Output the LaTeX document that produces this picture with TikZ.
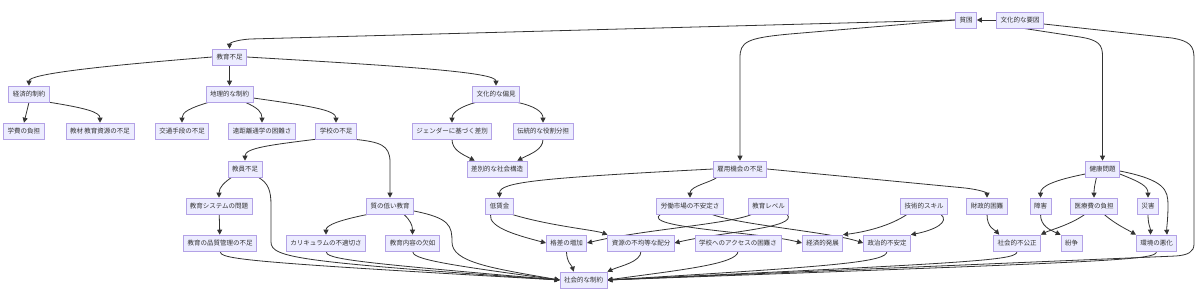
\documentclass[tikz,border=0pt]{standalone}
\usepackage{fontspec}
\usepackage{xcolor}
\usepackage{tikz}
\usetikzlibrary{arrows.meta,positioning,backgrounds}
\newfontfamily\jpfont{Noto Sans CJK JP}
\definecolor{boxfill}{HTML}{ECECFF}
\definecolor{boxline}{HTML}{B3A2E6}
\definecolor{ink}{HTML}{333333}

\begin{document}
\begin{tikzpicture}[x=1pt, y=-1pt, font=\jpfont\fontsize{6.5}{7}\selectfont,
  box/.style={draw=boxline, fill=boxfill, text=ink, line width=0.6pt, inner xsep=4pt, inner ysep=0pt, minimum height=16pt},
  link/.style={draw=ink, line width=0.8pt, -{Triangle[length=5pt,width=5pt]}}]
\useasboundingbox (0,0) rectangle (1200,297);
% top row
\node[box] (poverty) at (966,20) {貧困};
\node[box] (culture) at (1020,20) {文化的な要因};
% education side
\node[box] (edu) at (229.5,57) {教育不足};
\node[box] (econ) at (29,94) {経済的制約};
\node[box] (geo) at (229.5,94) {地理的な制約};
\node[box] (bias) at (496,94) {文化的な偏見};
\node[box] (fee) at (24,131) {学費の負担};
\node[box, minimum width=68pt] (mat) at (100,131) {教材 教育資源の不足};
\node[box] (trans) at (182,131) {交通手段の不足};
\node[box] (dist) at (262,131) {遠距離通学の困難さ};
\node[box] (school) at (336,131) {学校の不足};
\node[box] (gender) at (452,131) {ジェンダーに基づく差別};
\node[box] (role) at (543,131) {伝統的な役割分担};
\node[box] (teacher) at (245,169) {教員不足};
\node[box] (discr) at (497,169) {差別的な社会構造};
\node[box] (job) at (740,169) {雇用機会の不足};
\node[box] (health) at (1102.5,169) {健康問題};
\node[box] (system) at (219,206) {教育システムの問題};
\node[box] (lowq) at (390,206) {質の低い教育};
\node[box] (wage) at (499.5,206) {低賃金};
\node[box] (labor) at (690,206) {労働市場の不安定さ};
\node[box] (level) at (768.5,206) {教育レベル};
\node[box] (skill) at (924,206) {技術的スキル};
\node[box] (fin) at (987,206) {財政的困難};
\node[box] (disab) at (1040.5,206) {障害};
\node[box] (medical) at (1094,206) {医療費の負担};
\node[box] (disaster) at (1148,206) {災害};
\node[box] (qc) at (220,243) {教育の品質管理の不足};
\node[box] (curr) at (326,243) {カリキュラムの不適切さ};
\node[box] (content) at (412.5,243) {教育内容の欠如};
\node[box] (gap) at (566.5,243) {格差の増加};
\node[box] (alloc) at (641,243) {資源の不均等な配分};
\node[box] (access) at (738,243) {学校へのアクセスの困難さ};
\node[box] (devel) at (822.5,243) {経済的発展};
\node[box] (polit) at (887,243) {政治的不安定};
\node[box] (injust) at (1017,243) {社会的不公正};
\node[box] (conflict) at (1071.5,243) {紛争};
\node[box] (env) at (1156.5,243) {環境の悪化};
\node[box] (social) at (583.5,280) {社会的な制約};

\begin{scope}[on background layer]
% from the top row
\draw[link] (poverty.west) -- (250,39) .. controls (236,40) and (229.5,43) .. (edu.north);
\draw[link] (poverty.west) -- (790,34) .. controls (746,38) and (740,42) .. (740,58) -- (job.north);
\draw[link] (culture.west) -- (poverty.east);
\draw[link] ([xshift=3pt]culture.south) -- (1080,37) .. controls (1099,40) and (1102.5,45) .. (1102.5,56) -- (health.north);
\draw[link] ([yshift=-4pt]culture.east) -- (1172,38) .. controls (1190,41) and (1194,46) .. (1194,58) -- (1194,244) .. controls (1194,252) and (1188,255) .. (1176,256) -- (social.east);
% education tree
\draw[link] (edu.west) .. controls (100,66) and (29,74) .. (econ.north);
\draw[link] (edu) -- (geo);
\draw[link] (edu.east) .. controls (400,66) and (496,72) .. (bias.north);
\draw[link] (econ.south) -- (fee.north);
\draw[link] (econ.south east) .. controls (85,108) and (100,112) .. (mat.north);
\draw[link] ([xshift=3pt]geo.south west) .. controls (190,108) and (182,112) .. (trans.north);
\draw[link] ([xshift=-8pt]geo.south east) .. controls (258,108) and (262,112) .. (dist.north);
\draw[link] ([yshift=-4pt]geo.east) .. controls (310,106) and (336,110) .. (school.north);
\draw[link] ([xshift=4pt]bias.south west) .. controls (462,106) and (452,112) .. (gender.north);
\draw[link] ([xshift=-3pt]bias.south east) .. controls (535,106) and (543,112) .. (role.north);
\draw[link] (gender.south) .. controls (452,150) and (462,154) .. ([xshift=8pt]discr.north west);
\draw[link] (role.south) .. controls (543,150) and (530,154) .. ([xshift=-10pt]discr.north east);
\draw[link] (school.south west) .. controls (270,145) and (245,148) .. (teacher.north);
\draw[link] ([xshift=-2pt]school.south east) .. controls (380,142) and (390,145) .. (390,162) -- (lowq.north);
\draw[link] ([xshift=4pt]teacher.south west) .. controls (225,182) and (219,187) .. (system.north);
\draw[link] ([xshift=-4pt]teacher.south east) .. controls (268,183) and (271,190) .. (271,205) -- (271,242) .. controls (271,258) and (300,262) .. (social.west);
\draw[link] (system) -- (qc);
\draw[link] ([xshift=2pt]lowq.south west) .. controls (340,220) and (326,225) .. (curr.north);
\draw[link] ([xshift=-10pt]lowq.south east) .. controls (410,220) and (412.5,225) .. (content.north);
\draw[link] ([yshift=-5pt]lowq.east) .. controls (450,218) and (452,226) .. (452,242) .. controls (452,262) and (490,268) .. (social.west);
\draw[link] (qc.south) .. controls (220,259) and (240,262) .. (social.west);
\draw[link] (curr.south) .. controls (326,259) and (350,262) .. (social.west);
\draw[link] (content.south) .. controls (412.5,259) and (440,264) .. (social.west);
% employment
\draw[link] (job.west) .. controls (540,178) and (499.5,182) .. (wage.north);
\draw[link] ([xshift=4pt]job.south west) .. controls (712,182) and (690,186) .. (labor.north);
\draw[link] (job.east) -- (965,188) .. controls (982,190) and (987,193) .. (fin.north);
\draw[link] ([xshift=5pt]wage.south west) .. controls (488,228) and (520,236) .. (gap.west);
\draw[link] ([xshift=-2pt]wage.south east) .. controls (550,226) and (595,230) .. (alloc.north west);
\draw[link] ([xshift=4pt]labor.south west) .. controls (640,228) and (760,232) .. (devel.west);
\draw[link] ([xshift=-12pt]labor.south east) .. controls (740,225) and (830,232) .. (polit.west);
\draw[link] ([xshift=4pt]level.south west) .. controls (730,224) and (640,230) .. (gap.east);
\draw[link] ([xshift=-2pt]level.south east) .. controls (800,228) and (720,232) .. (alloc.east);
\draw[link] ([xshift=7pt]skill.south west) .. controls (890,226) and (865,232) .. (devel.north east);
\draw[link] ([xshift=-7pt]skill.south east) .. controls (950,222) and (935,230) .. (polit.north east);
\draw[link] (fin.south) .. controls (987,228) and (995,230) .. ([xshift=6pt]injust.north west);
% health
\draw[link] ([yshift=-5pt]health.west) .. controls (1055,180) and (1040.5,186) .. (disab.north);
\draw[link] ([xshift=-6pt]health.south) .. controls (1095,184) and (1094,188) .. (medical.north);
\draw[link] ([yshift=-5pt]health.east) .. controls (1140,182) and (1148,186) .. (disaster.north);
\draw[link] ([yshift=-2pt]health.east) .. controls (1165,180) and (1168,190) .. (1168,205) .. controls (1168,220) and (1166.5,228) .. ([xshift=-10pt]env.north east);
\draw[link] (disab.south) .. controls (1040.5,226) and (1050,230) .. (conflict.north west);
\draw[link] ([xshift=-9pt]medical.south) .. controls (1070,225) and (1050,230) .. (injust.north east);
\draw[link] ([xshift=10pt]medical.south) .. controls (1115,224) and (1128,230) .. (env.north west);
\draw[link] (disaster.south) .. controls (1148,225) and (1150.5,228) .. ([xshift=-6pt]env.north);
% into the social constraint
\draw[link] (gap.south) .. controls (566.5,262) and (572,266) .. ([xshift=14pt]social.north west);
\draw[link] (alloc.south) .. controls (641,262) and (620,266) .. (social.north east);
\draw[link] (access.south) .. controls (738,264) and (680,270) .. (social.east);
\draw[link] (polit.south) .. controls (887,262) and (840,266) .. (social.east);
\draw[link] (injust.south) .. controls (1017,260) and (990,262) .. (social.east);
\draw[link] (env.south) .. controls (1156.5,260) and (1130,261) .. (social.east);
\end{scope}
\end{tikzpicture}
\end{document}
